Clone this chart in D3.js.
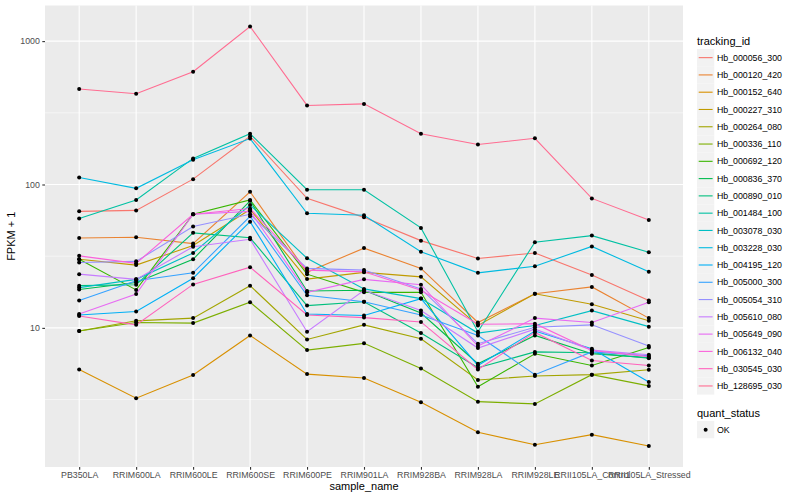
<!DOCTYPE html>
<html>
<head>
<meta charset="utf-8">
<script src="https://cdn.jsdelivr.net/npm/d3@7"></script>
<style>
  body { margin: 0; background: #fff; }
  text { font-family: "Liberation Sans", Arial, sans-serif; }
</style>
</head>
<body>
<svg id="chart" width="800" height="500"></svg>
<script>
var samples = ['PB350LA', 'RRIM600LA', 'RRIM600LE', 'RRIM600SE', 'RRIM600PE', 'RRIM901LA',
  'RRIM928BA', 'RRIM928LA', 'RRIM928LE', 'RRII105LA_Control', 'RRII105LA_Stressed'];

var trackingIds = ['Hb_000056_300', 'Hb_000120_420', 'Hb_000152_640', 'Hb_000227_310', 'Hb_000264_080',
  'Hb_000336_110', 'Hb_000692_120', 'Hb_000836_370', 'Hb_000890_010', 'Hb_001484_100',
  'Hb_003078_030', 'Hb_003228_030', 'Hb_004195_120', 'Hb_005000_300', 'Hb_005054_310',
  'Hb_005610_080', 'Hb_005649_090', 'Hb_006132_040', 'Hb_030545_030', 'Hb_128695_030'];

// FPKM + 1, one row per tracking id, one value per sample
var fpkm = [
  [65, 66, 109, 217, 80, 59, 40.6, 30.5, 33.3, 23.4, 15.5],
  [42.4, 42.9, 38.7, 89, 24.4, 36, 26, 10.9, 17.3, 19.3, 11.7],
  [5.13, 3.23, 4.69, 8.86, 4.76, 4.47, 3.03, 1.87, 1.53, 1.8, 1.5],
  [30.1, 27.4, 37.6, 67, 21.9, 24.4, 22.7, 10.4, 17.3, 14.6, 11.2],
  [9.5, 11.2, 11.7, 19.7, 8.3, 10.5, 8.4, 4.33, 4.62, 4.72, 5.1],
  [9.5, 10.9, 10.8, 15.1, 7.0, 7.8, 5.2, 3.06, 2.95, 4.72, 3.94],
  [30.1, 18.4, 62, 78, 23.7, 17.7, 17.7, 3.89, 6.6, 5.47, 7.3],
  [18.5, 20.7, 30.1, 77, 18.1, 18.3, 12.7, 5.62, 8.86, 6.6, 6.2],
  [19.7, 20.0, 46, 42.5, 14.3, 15.2, 9.2, 5.27, 6.8, 6.7, 6.15],
  [58, 78, 152, 226, 92, 92, 49.8, 9.4, 39.6, 44, 33.7],
  [19.1, 21.8, 33.3, 72, 30.6, 18.7, 16.0, 9.2, 10.4, 13.2, 10.2],
  [112, 94, 149, 209, 63, 61, 34, 24.2, 26.9, 37, 24.6],
  [12.3, 13.0, 22.2, 55, 12.5, 12.2, 16.0, 5.47, 9.5, 7.16, 4.2],
  [15.5, 21.3, 24.2, 60, 16.9, 15.2, 12.3, 8.86, 4.72, 6.8, 6.4],
  [28.6, 29.1, 51, 62, 26, 25.3, 18.7, 7.76, 10.1, 10.5, 7.47],
  [23.7, 21.8, 36.8, 41.5, 9.4, 18.3, 13.2, 7.23, 9.8, 7.0, 6.5],
  [12.5, 17.2, 62, 65, 17.7, 21.8, 20, 7.47, 11.7, 10.9, 15.1],
  [31.8, 28.2, 62, 68, 25.3, 24.6, 18.3, 10.6, 10.7, 6.96, 6.3],
  [12.1, 10.5, 20.1, 26.5, 12.3, 11.8, 11.0, 5.13, 9.3, 5.93, 5.47],
  [464, 429, 612, 1265, 356, 365, 226, 190, 210, 80, 56.5]
];

var yTicks = [10, 100, 1000];
var yMinor = [Math.sqrt(10), Math.sqrt(1000), Math.sqrt(100000)];

var palette = ['#F8766D', '#EA8331', '#D89000', '#C09B00', '#A3A500', '#7CAE00', '#39B600', '#00BB4E',
  '#00BF7D', '#00C1A3', '#00BFC4', '#00BAE0', '#00B0F6', '#35A2FF', '#9590FF', '#C77CFF',
  '#E76BF3', '#FA62DB', '#FF62BC', '#FF6C91'];

var svg = d3.select('#chart');
var panel = {left: 45, right: 683, top: 5.5, bottom: 467};

var x = d3.scalePoint().domain(samples).range([panel.left, panel.right]).padding(0.6);

// log scale with ggplot-like 5% expansion
var all = d3.merge(fpkm);
var lo = Math.log10(d3.min(all)), hi = Math.log10(d3.max(all));
var pad = (hi - lo) * 0.05;
var y = d3.scaleLog().domain([Math.pow(10, lo - pad), Math.pow(10, hi + pad)])
  .range([panel.bottom, panel.top]);

var color = d3.scaleOrdinal().domain(trackingIds).range(palette);

svg.append('rect')
  .attr('x', panel.left).attr('y', panel.top)
  .attr('width', panel.right - panel.left).attr('height', panel.bottom - panel.top)
  .attr('fill', '#EBEBEB');

var grid = svg.append('g');
grid.selectAll('line.minor').data(yMinor).enter().append('line')
  .attr('x1', panel.left).attr('x2', panel.right)
  .attr('y1', function (d) { return y(d); }).attr('y2', function (d) { return y(d); })
  .attr('stroke', '#fff').attr('stroke-width', 0.55);
grid.selectAll('line.major').data(yTicks).enter().append('line')
  .attr('x1', panel.left).attr('x2', panel.right)
  .attr('y1', function (d) { return y(d); }).attr('y2', function (d) { return y(d); })
  .attr('stroke', '#fff').attr('stroke-width', 1.1);
grid.selectAll('line.vert').data(samples).enter().append('line')
  .attr('x1', function (d) { return x(d); }).attr('x2', function (d) { return x(d); })
  .attr('y1', panel.top).attr('y2', panel.bottom)
  .attr('stroke', '#fff').attr('stroke-width', 1.1);

var series = trackingIds.map(function (id, i) {
  return {id: id, values: fpkm[i].map(function (v, j) { return {s: samples[j], v: v}; })};
});

var line = d3.line()
  .x(function (d) { return x(d.s); })
  .y(function (d) { return y(d.v); });

svg.append('g').selectAll('path').data(series).enter().append('path')
  .attr('d', function (d) { return line(d.values); })
  .attr('fill', 'none')
  .attr('stroke', function (d) { return color(d.id); })
  .attr('stroke-width', 1.1);

svg.append('g').selectAll('g').data(series).enter().append('g')
  .selectAll('circle').data(function (d) { return d.values; }).enter().append('circle')
  .attr('cx', function (d) { return x(d.s); })
  .attr('cy', function (d) { return y(d.v); })
  .attr('r', 2)
  .attr('fill', '#000');

// axes
var xAxis = svg.append('g').attr('transform', 'translate(0,' + panel.bottom + ')')
  .call(d3.axisBottom(x).tickSize(2.7).tickPadding(2.5));
var yAxis = svg.append('g').attr('transform', 'translate(' + panel.left + ',0)')
  .call(d3.axisLeft(y).tickValues(yTicks).tickFormat(d3.format('d')).tickSize(2.7).tickPadding(2.5));
[xAxis, yAxis].forEach(function (a) {
  a.select('.domain').remove();
  a.selectAll('.tick line').attr('stroke', '#333333').attr('stroke-width', 1.1);
  a.selectAll('.tick text').attr('fill', '#4D4D4D')
    .style('font-size', '8.8px').style('font-family', '"Liberation Sans", Arial, sans-serif');
});

svg.append('text')
  .attr('x', (panel.left + panel.right) / 2).attr('y', 490)
  .attr('text-anchor', 'middle').style('font-size', '11px')
  .text('sample_name');
svg.append('text')
  .attr('transform', 'translate(15,' + ((panel.top + panel.bottom) / 2) + ') rotate(-90)')
  .attr('text-anchor', 'middle').style('font-size', '11px')
  .text('FPKM + 1');

// legend: tracking_id
var lg = svg.append('g').attr('transform', 'translate(697,0)');
lg.append('text').attr('x', 0).attr('y', 44.5).style('font-size', '11px').text('tracking_id');
var keys = lg.selectAll('g.key').data(trackingIds).enter().append('g')
  .attr('transform', function (d, i) { return 'translate(0,' + (49 + i * 17.28) + ')'; });
keys.append('rect').attr('width', 17.28).attr('height', 17.28).attr('fill', '#F2F2F2');
keys.append('line').attr('x1', 1.7).attr('x2', 15.6).attr('y1', 8.64).attr('y2', 8.64)
  .attr('stroke', function (d) { return color(d); }).attr('stroke-width', 1.1);
keys.append('text').attr('x', 19.9).attr('y', 11.8).style('font-size', '8.8px')
  .text(function (d) { return d; });

// legend: quant_status
lg.append('text').attr('x', 0).attr('y', 416.5).style('font-size', '11px').text('quant_status');
var qk = lg.append('g').attr('transform', 'translate(0,421)');
qk.append('rect').attr('width', 17.28).attr('height', 17.28).attr('fill', '#F2F2F2');
qk.append('circle').attr('cx', 8.64).attr('cy', 8.64).attr('r', 2).attr('fill', '#000');
qk.append('text').attr('x', 19.9).attr('y', 11.8).style('font-size', '8.8px').text('OK');
</script>
</body>
</html>
